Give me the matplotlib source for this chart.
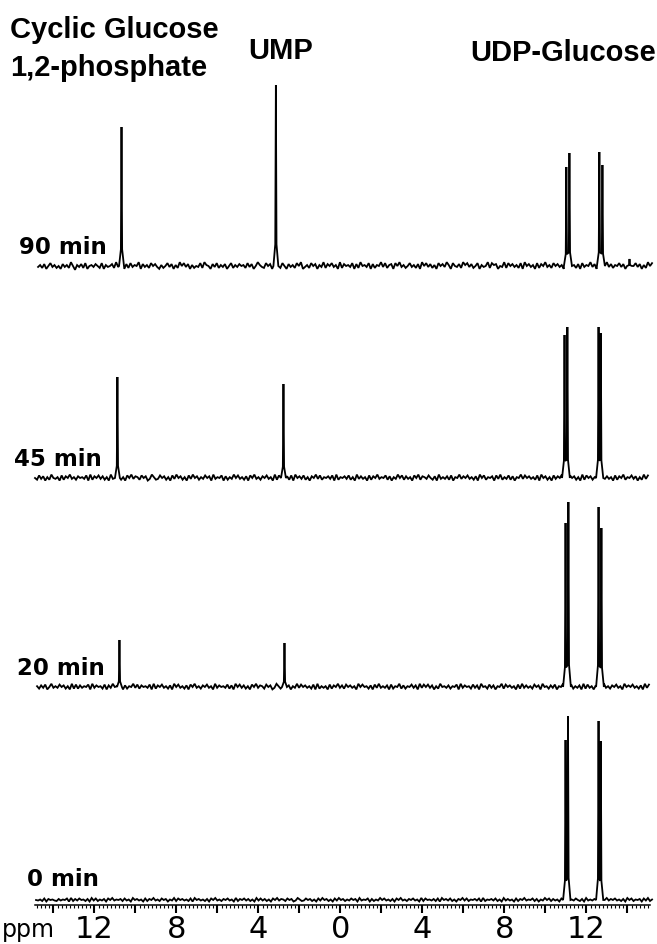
import numpy as np
import matplotlib
matplotlib.use("Agg")
import matplotlib.pyplot as plt
from matplotlib.ticker import FixedLocator, MultipleLocator

# -- spectra (31P NMR, ppm / intensity in arbitrary units)
labels = ["90 min", "45 min", "20 min", "0 min"]
offsets = [639, 427, 218, 5]

peak_ppm_90 = [10.68, 3.15, -11.02, -11.17, -12.63, -12.78, -14.10]
peak_int_90 = [139, 181, 99, 113, 114, 101, 7]
peak_ppm_45 = [10.88, 2.78, -10.93, -11.07, -12.59, -12.70]
peak_int_45 = [101, 94, 143, 151, 151, 145]
peak_ppm_20 = [10.78, 2.73, -10.98, -11.12, -12.59, -12.73]
peak_int_20 = [47, 44, 164, 185, 180, 159]
peak_ppm_0 = [-10.98, -11.10, -12.59, -12.70]
peak_int_0 = [160, 184, 179, 159]

# baseline noise, one digit per point (5 = flat)
noise_90 = """
4637258463 5274639516 4738256475 3826457394 5627384659 2746385742 6358472639 5847263548 3965274836 4725836475
6384725964 3857264938 5274638592 4638572649 3758462937 5648273956 4827365948 3672859463 5846372958 4736285749
6285473968 4735826459 3867254938 5746382957 4628375946 3857462938 5637284659 4728365947 3658472936 5847263958
"""
noise_45 = """
5384726395 4628375946 3756482937 5847362948 4736285947 6385724963 4857362849 5736284957 3648572946 5827364958
4637285946 3758462938 5647382957 4836275948 3657482936 5748362947 4628375946 5837264958 3746285937 6485372946
4738265947 5846372958 3657284936 4837265948 5746382957 3628475946 4857362938 5736485947 4628375936 5847263948
"""
noise_20 = """
6374825946 4857362938 3746582947 5638274956 4827365948 3756482937 5846372958 4637285946 3758462947 5648372958
4736285947 6385724963 3857264948 5746382936 4628375947 3857462958 5637284946 4728365937 3658472948 5847263956
4736582947 5638472956 3847265938 5746283947 4638572956 3748265947 5836472938 4627385946 3758462957 5846372948
"""
noise_0 = """
5463827564 3746582937 4856372948 3647285946 5738462957 4628375946 3857264938 5746382957 4637285946 3758462937
5847362948 4736285947 6385724963 4857362849 5736284957 3648572946 5827364958 4637285946 3758462938 5647382957
4836275948 3657482936 5748362947 4628375946 5837264958 3746285937 6485372946 4738265947 5846372958 3657284936
"""
ranges = [(14.75, -15.2), (14.9, -15.0), (14.8, -15.05), (14.85, -15.2)]
noise_scale = [0.95, 0.85, 0.8, 0.5]

tick_pos = [12, 8, 4, 0, -4, -8, -12]
tick_txt = ["12", "8", "4", "0", "4", "8", "12"]


def build_trace(noise, ppm_range, scale, peaks_ppm, peaks_int):
    digits = "".join(noise.split())
    vals = np.array([int(c) - 5 for c in digits], dtype=float) * scale
    xs = np.linspace(ppm_range[0], ppm_range[1], len(vals))
    foot = 0.12
    pts = [(x, v) for x, v in zip(xs, vals)
           if min(abs(x - p) for p in peaks_ppm) > foot]
    for p, h in zip(peaks_ppm, peaks_int):
        others = [q for q in peaks_ppm if q != p]
        for b in (p + foot, p - foot):
            if not others or min(abs(b - q) for q in others) > foot:
                pts.append((b, 0.0))
        pts += [(p + 0.03, h * 0.12), (p, h), (p - 0.03, h * 0.12)]
    pts.sort(key=lambda q: -q[0])
    return np.array(pts)


W, H = 657, 944
fig = plt.figure(figsize=(W / 100, H / 100), dpi=100)
ax = fig.add_axes([35 / W, (H - 905) / H, 615 / W, 905 / H])
ax.set_xlim(14.9, -15.1)
ax.set_ylim(0, 905)

spectra = [(noise_90, peak_ppm_90, peak_int_90),
           (noise_45, peak_ppm_45, peak_int_45),
           (noise_20, peak_ppm_20, peak_int_20),
           (noise_0, peak_ppm_0, peak_int_0)]

label_x = [15.7, 15.9, 15.8, 15.27]
label_dy = [7, 7, 7, 9]
for i, (nz, pp, pi) in enumerate(spectra):
    tr = build_trace(nz, ranges[i], noise_scale[i], pp, pi)
    ax.plot(tr[:, 0], tr[:, 1] + offsets[i], color="black", lw=1.3,
            clip_on=False, solid_joinstyle="miter")
    ax.text(label_x[i], offsets[i] + label_dy[i], labels[i], ha="left",
            va="bottom", fontsize=16.5, fontweight="bold",
            family="DejaVu Sans", clip_on=False)

for s in ["top", "left", "right"]:
    ax.spines[s].set_visible(False)
ax.spines["bottom"].set_linewidth(1.1)
ax.set_yticks([])
ax.xaxis.set_major_locator(MultipleLocator(2))
ax.xaxis.set_minor_locator(MultipleLocator(0.2))
ax.set_xticklabels([])
ax.tick_params(axis="x", which="major", length=6, width=1.5, pad=2)
ax.tick_params(axis="x", which="minor", length=2, width=0.8)
# labelled ticks every 4 ppm (sign dropped as in the original figure)
sec = ax.secondary_xaxis("bottom")
sec.xaxis.set_major_locator(FixedLocator(tick_pos))
sec.set_xticklabels(tick_txt)
sec.tick_params(length=0, labelsize=22, pad=7)
sec.spines["bottom"].set_visible(False)

fig.text(2 / W, 1 - 937 / H, "ppm", fontsize=17, ha="left", va="baseline")

head_font = ["Liberation Sans Narrow", "Liberation Sans", "DejaVu Sans"]
fig.text(10 / W, 1 - 16 / H, "Cyclic Glucose\n1,2-phosphate", fontsize=21,
         fontweight="bold", family=head_font, va="top", ha="left",
         linespacing=1.45)
fig.text(248 / W, 1 - 37 / H, "UMP", fontsize=21, fontweight="bold",
         family=head_font, va="top", ha="left")
fig.text(470 / W, 1 - 39 / H, "UDP-Glucose", fontsize=21, fontweight="bold",
         family=head_font, va="top", ha="left")

fig.savefig("out.png", dpi=100)
